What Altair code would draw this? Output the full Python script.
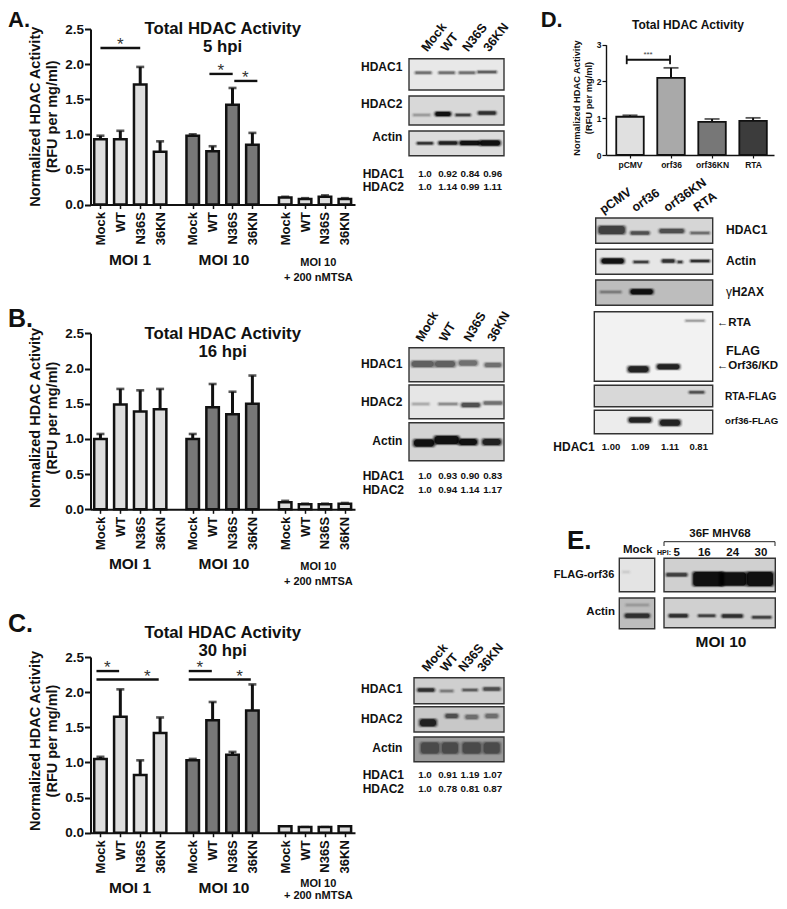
import altair as alt
import pandas as pd

# ---------- bar chart values ----------
CONDITIONS = ["Mock", "WT", "N36S", "36KN"]
A_MEANS = [0.93, 0.93, 1.71, 0.75, 0.98, 0.76, 1.42, 0.85, 0.10, 0.08, 0.11, 0.08]
A_TOPS = [0.98, 1.05, 1.96, 0.90, 1.00, 0.83, 1.66, 1.02, 0.11, 0.09, 0.13, 0.09]
B_MEANS = [1.00, 1.49, 1.39, 1.42, 1.00, 1.45, 1.35, 1.50, 0.10, 0.07, 0.07, 0.08]
B_TOPS = [1.07, 1.71, 1.69, 1.71, 1.07, 1.78, 1.67, 1.90, 0.12, 0.08, 0.08, 0.09]
C_MEANS = [1.05, 1.65, 0.82, 1.42, 1.03, 1.60, 1.11, 1.74, 0.09, 0.08, 0.08, 0.09]
C_TOPS = [1.08, 2.04, 1.03, 1.64, 1.05, 1.86, 1.15, 2.11, 0.09, 0.08, 0.08, 0.09]
D_LABELS = ["pCMV", "orf36", "orf36KN", "RTA"]
D_MEANS = [1.04, 2.10, 0.90, 0.93]
D_TOPS = [1.08, 2.37, 0.98, 1.01]

# significance bars: from, to, height; stars: position, height
A_SIG = [(0.0, 2.0, 2.23), (5.48, 6.65, 1.86), (6.73, 7.89, 1.76)]
A_STAR = [(1.0, 2.39), (6.05, 2.02), (7.29, 1.915)]
C_SIG = [(-0.2, 0.94, 2.30), (-0.2, 2.93, 2.18), (4.44, 5.6, 2.30), (4.44, 7.56, 2.18)]
C_STAR = [(0.35, 2.456), (2.36, 2.33), (5.0, 2.456), (7.0, 2.33)]

# ---------- layout ----------
W, H = 771, 893
GROUP_OFFSET = [0.0, 4.64, 9.29]
GROUP_FILL = ["#dedede", "#777777", "#dedede"]
D_FILL = ["#e0e0e0", "#a9a9a9", "#777777", "#3c3c3c"]
AXIS_COLOR = "#111111"
FONT = "Liberation Sans"


def main_chart(means, tops, y0, y25, sig=(), stars=()):
    rows = []
    for i, (m, t) in enumerate(zip(means, tops)):
        g, c = divmod(i, 4)
        rows.append({"pos": round(GROUP_OFFSET[g] + c, 2), "v": m, "top": t, "fill": GROUP_FILL[g],
                     "label": CONDITIONS[c]})
    df = pd.DataFrame(rows)
    xs = alt.Scale(domain=[-0.5, 12.8], range=[90.5 - 8, 355 - 8], nice=False, zero=False, padding=0)
    ys = alt.Scale(domain=[0, 2.5], range=[y0 - 8, y25 - 8], nice=False, zero=False)
    lookup = "{" + ",".join(f"'{r['pos']:g}':'{r['label']}'" for r in rows) + "}"
    xaxis = alt.Axis(orient="bottom", offset=-(H - (y0 - 8)), values=list(df["pos"]), title=None,
                     labelExpr=f"{lookup}[''+datum.value]", labelAngle=270, labelAlign="right",
                     labelBaseline="middle", labelFont=FONT, labelFontWeight="bold", labelFontSize=13,
                     labelPadding=3, labelColor="#111", tickSize=4, tickWidth=1.5, tickColor=AXIS_COLOR,
                     domainWidth=2, domainColor=AXIS_COLOR, grid=False, labelOverlap=False, labelFlush=False)
    yaxis = alt.Axis(orient="left", offset=-82.5, values=[0, 0.5, 1, 1.5, 2, 2.5], format=".1f", title=None,
                     labelFont=FONT, labelFontWeight="bold", labelFontSize=13.5, labelPadding=1, labelColor="#111",
                     tickSize=6, tickWidth=2, tickColor=AXIS_COLOR, domainWidth=2, domainColor=AXIS_COLOR,
                     grid=False, labelFlush=False, labelOverlap=False)
    X = alt.X("pos:Q", scale=xs, axis=xaxis)
    Y = alt.Y("v:Q", scale=ys, axis=yaxis, stack=None)
    err = alt.Chart(df).mark_rule(color="#111", strokeWidth=3).encode(x=X, y=Y, y2="top:Q")
    cap = alt.Chart(df).mark_tick(color="#111", thickness=2.6, size=8, orient="horizontal").encode(
        x=X, y=alt.Y("top:Q", scale=ys, axis=yaxis))
    bars = alt.Chart(df).mark_bar(orient="vertical", size=12.5, stroke="#111", strokeWidth=2.5).encode(
        x=X, y=Y, fill=alt.Fill("fill:N", scale=None))
    parts = [err, cap, bars]
    if sig:
        sd = pd.DataFrame(sig, columns=["a", "b", "y"])
        parts.append(alt.Chart(sd).mark_rule(color="#111", strokeWidth=2.4).encode(
            x=alt.X("a:Q", scale=xs, axis=xaxis), x2="b:Q", y=alt.Y("y:Q", scale=ys, axis=yaxis)))
        td = pd.DataFrame(stars, columns=["p", "y"]).assign(t="*")
        parts.append(alt.Chart(td).mark_text(font=FONT, fontSize=17, color="#333", baseline="top").encode(
            x=alt.X("p:Q", scale=xs, axis=xaxis), y=alt.Y("y:Q", scale=ys, axis=yaxis), text="t:N"))
    return alt.layer(*parts)


def d_chart():
    df = pd.DataFrame({"pos": range(4), "v": D_MEANS, "top": D_TOPS, "fill": D_FILL, "label": D_LABELS})
    xs = alt.Scale(domain=[-0.585, 3.51], range=[606 - 8, 774 - 8], nice=False, zero=False, padding=0)
    ys = alt.Scale(domain=[0, 3], range=[155 - 8, 44.7 - 8], nice=False, zero=False)
    lookup = "[" + ",".join(f"'{s}'" for s in D_LABELS) + "]"
    xaxis = alt.Axis(orient="bottom", offset=-(H - 147), values=[0, 1, 2, 3], title=None, labelAngle=0,
                     labelExpr=f"{lookup}[datum.value]", labelFont=FONT, labelFontWeight="bold", labelFontSize=8.5,
                     labelPadding=2, labelColor="#111", tickSize=3, tickWidth=1.2, tickColor=AXIS_COLOR,
                     domainWidth=1.4, domainColor=AXIS_COLOR, grid=False, labelOverlap=False, labelFlush=False)
    yaxis = alt.Axis(orient="left", offset=-(606 - 8), values=[0, 1, 2, 3], format="d", title=None,
                     labelFont=FONT, labelFontWeight="bold", labelFontSize=8.5, labelPadding=1, labelColor="#111",
                     tickSize=4, tickWidth=1.2, tickColor=AXIS_COLOR, domainWidth=1.4, domainColor=AXIS_COLOR,
                     grid=False, labelFlush=False, labelOverlap=False)
    X = alt.X("pos:Q", scale=xs, axis=xaxis)
    Y = alt.Y("v:Q", scale=ys, axis=yaxis, stack=None)
    err = alt.Chart(df).mark_rule(color="#111", strokeWidth=2).encode(x=X, y=Y, y2="top:Q")
    cap = alt.Chart(df).mark_tick(color="#111", thickness=1.8, size=15, orient="horizontal").encode(
        x=X, y=alt.Y("top:Q", scale=ys, axis=yaxis))
    bars = alt.Chart(df).mark_bar(orient="vertical", size=27.5, stroke="#111", strokeWidth=1.8).encode(
        x=X, y=Y, fill=alt.Fill("fill:N", scale=None))
    br = pd.DataFrame({"a": [-0.08], "b": [0.976], "y": [2.59]})
    h = alt.Chart(br).mark_rule(color="#111", strokeWidth=1.8).encode(
        x=alt.X("a:Q", scale=xs, axis=xaxis), x2="b:Q", y=alt.Y("y:Q", scale=ys, axis=yaxis))
    cp = pd.DataFrame({"p": [-0.08, 0.976], "lo": [2.47, 2.47], "hi": [2.71, 2.71]})
    c2 = alt.Chart(cp).mark_rule(color="#111", strokeWidth=1.8).encode(
        x=alt.X("p:Q", scale=xs, axis=xaxis), y=alt.Y("lo:Q", scale=ys, axis=yaxis), y2="hi:Q")
    st = pd.DataFrame({"p": [0.44], "y": [2.72], "t": ["***"]})
    s = alt.Chart(st).mark_text(font=FONT, fontSize=8, color="#444", baseline="middle").encode(
        x=alt.X("p:Q", scale=xs, axis=xaxis), y=alt.Y("y:Q", scale=ys, axis=yaxis), text="t:N")
    return alt.layer(err, cap, bars, h, c2, s)


# ---------- blots (page layout: left, right, top, bottom, background) ----------
PANELS = [
    (409, 504, 58.7, 90, "#e8e8e8"), (409, 504, 96, 125, "#d8d8d8"), (409, 504, 131, 155.7, "#dcdcdc"),
    (409, 504, 347.7, 381.7, "#dcdcdc"), (409, 504, 385, 418.7, "#e6e6e6"), (409, 504, 422.7, 460.7, "#d4d4d4"),
    (414, 504, 677.7, 703.7, "#cfcfcf"), (414, 504, 706.7, 732, "#c8c8c8"), (414, 504, 737, 761.7, "#9a9a9a"),
    (595.7, 712.7, 218, 243.3, "#d6d6d6"), (595.7, 712.7, 249.3, 274.3, "#e6e6e6"),
    (595.7, 712.7, 280, 305.3, "#bdbdbd"), (594.3, 712.7, 311.7, 381.3, "#f2f2f2"),
    (594.3, 712.7, 385.3, 406.7, "#d8d8d8"), (594.3, 712.7, 410.3, 433.7, "#ececec"),
    (619.3, 654.7, 558.3, 591.7, "#e4e4e4"), (619.3, 654.7, 598, 628.7, "#bdbdbd"),
    (664, 775.3, 558.3, 591.7, "#d0d0d0"), (664, 775.3, 598, 627.7, "#d0d0d0"),
]
# band: x centre, y centre, width, height, colour
BANDS = [
    (423.3, 72.7, 15, 2, "#666"), (446.7, 72.7, 15, 2, "#666"), (467, 72.7, 15, 2, "#666"), (487, 72, 18, 2, "#555"),
    (421.7, 115, 16, 2, "#999"), (443, 114, 15, 4, "#000"), (463, 115, 14, 2, "#333"), (487, 113, 17, 3, "#222"),
    (425, 143.3, 15, 2, "#222"), (448, 143, 18, 3, "#111"), (470, 143, 20, 4, "#000"), (490, 143, 20, 5, "#000"),
    (422.7, 364, 22, 6, "#555"), (445, 364, 20, 6, "#555"), (468, 363, 18, 5, "#666"), (493, 365, 16, 4, "#666"),
    (420.7, 404, 16, 2, "#aaa"), (448, 404, 18, 2, "#888"), (470.7, 405, 18, 4, "#444"), (493, 403, 18, 3, "#666"),
    (424, 443, 20, 7, "#000"), (446.7, 440, 24, 8, "#000"), (468, 442, 18, 6, "#000"), (491.7, 442, 18, 6, "#111"),
    (426, 690, 16, 3, "#222"), (446.7, 691, 12, 2, "#777"), (470, 690, 14, 2, "#555"), (491.7, 689, 16, 3, "#444"),
    (428, 722.7, 16, 7, "#111"), (451.7, 716, 12, 4, "#444"), (471.7, 717, 12, 4, "#666"), (491.7, 716, 12, 4, "#666"),
    (430, 748, 18, 11, "#444"), (450, 748, 16, 11, "#444"), (471.7, 748, 18, 11, "#444"), (491.7, 748, 16, 11, "#444"),
    (611.7, 230, 26, 8, "#333"), (640, 233, 18, 3, "#444"), (671.7, 231, 24, 4, "#444"), (700, 233, 18, 2, "#666"),
    (612.7, 261, 22, 5, "#000"), (641, 262, 14, 2, "#333"), (668.3, 261, 12, 3, "#222"), (680, 262, 4, 2, "#333"),
    (700, 261, 18, 2, "#222"),
    (610.7, 292, 20, 2, "#777"), (641.7, 291.7, 22, 5, "#000"),
    (695, 320.7, 18, 1.5, "#999"), (638.3, 369.3, 20, 6, "#111"), (668.3, 366.7, 22, 5, "#111"),
    (696.7, 392.3, 14, 2, "#444"),
    (640, 420, 22, 5, "#111"), (670, 422.7, 20, 6, "#111"),
    (626, 572, 6, 2, "#ccc"),
    (637.3, 605, 22, 2, "#999"), (637.3, 615.7, 24, 4, "#222"),
    (676.7, 574.7, 20, 3, "#333"), (708.3, 579, 30, 14, "#000"), (733.3, 579, 26, 13, "#000"), (760, 579, 26, 14, "#000"),
    (678.3, 615.7, 18, 3, "#222"), (706.7, 615.7, 16, 2, "#333"), (732.3, 616, 20, 3, "#222"), (761.7, 617.3, 18, 2, "#333"),
]
# nested soft edge: grow, opacity
SOFT = [(3.0, 0.08), (2.2, 0.14), (1.5, 0.22), (0.8, 0.35), (0.0, 0.8)]

# ---------- texts: text, x, y, size, angle ----------
BOLD_CENTER = []
BOLD_LEFT = []
REGULAR_LEFT = []
for t_y, hpi in [((29, 46.7), "5 hpi"), ((334, 351.7), "16 hpi"), ((633, 651), "30 hpi")]:
    BOLD_CENTER += [("Total HDAC Activity", 222.7, t_y[0], 16.8, 0), (hpi, 222.7, t_y[1], 16.8, 0)]
for y_c, y_moi, y_s1, y_s2 in [(116.7, 260, 263, 278), (418, 564, 567, 582), (741, 888, 884, 895.5)]:
    BOLD_CENTER += [("Normalized HDAC Activity", 35.7, y_c, 14.5, 270), ("(RFU per mg/ml)", 52.7, y_c, 14.5, 270),
                    ("MOI 1", 130, y_moi, 15.5, 0), ("MOI 10", 224, y_moi, 15.5, 0),
                    ("MOI 10", 318.3, y_s1, 11, 0), ("+ 200 nMTSA", 318.3, y_s2, 11, 0)]
for letter, x, y, s in [("A.", 8, 20, 22), ("B.", 8, 319, 25), ("C.", 8, 624, 25), ("D.", 540.7, 20, 22), ("E.", 567, 540.7, 26)]:
    BOLD_LEFT.append((letter, x, y, s, 0))
VALUE_X = [425, 447.7, 470, 492.7]
for h1, h2, vals1, vals2 in [(174, 187, ["1.0", "0.92", "0.84", "0.96"], ["1.0", "1.14", "0.99", "1.11"]),
                             (476, 490, ["1.0", "0.93", "0.90", "0.83"], ["1.0", "0.94", "1.14", "1.17"]),
                             (775, 789, ["1.0", "0.91", "1.19", "1.07"], ["1.0", "0.78", "0.81", "0.87"])]:
    BOLD_LEFT += [("HDAC1", 362.7, h1, 12, 0), ("HDAC2", 362.7, h2, 12, 0)]
    for x, a, b in zip(VALUE_X, vals1, vals2):
        BOLD_CENTER += [(a, x, h1, 9.8, 0), (b, x, h2, 9.8, 0)]
for y1, y2, y3 in [(67, 104, 136.7), (364, 402.3, 441), (689.3, 719, 748.3)]:
    BOLD_LEFT += [("HDAC1", 361, y1, 12, 0), ("HDAC2", 361, y2, 12, 0), ("Actin", 372.3, y3, 12, 0)]
for xs_, y_, ang in [([424, 443.5, 465, 486], 50, 308), ([419, 442.5, 467, 490.5], 340.5, 300),
                     ([424.5, 443, 461, 480], 670, 310)]:
    for n, x in zip(CONDITIONS, xs_):
        BOLD_LEFT.append((n, x, y_, 12.6, ang))
for n, x, y in [("pCMV", 601, 211), ("orf36", 633, 209), ("orf36KN", 665, 209), ("RTA", 695, 209)]:
    BOLD_LEFT.append((n, x, y, 12.5, 325))
BOLD_CENTER += [("Total HDAC Activity", 688, 25.3, 12, 0),
                ("Normalized HDAC Activity", 576.7, 98, 9.3, 270), ("(RFU per mg/ml)", 589.3, 98, 9.3, 270),
                ("HDAC1", 574, 446.7, 12, 0), ("1.00", 611, 446.7, 9.5, 0), ("1.09", 640.3, 446.7, 9.5, 0),
                ("1.11", 670, 446.7, 9.5, 0), ("0.81", 698.7, 446.7, 9.5, 0),
                ("Mock", 637.7, 550, 11.5, 0), ("36F MHV68", 720, 534, 11.5, 0), ("HPI:", 664, 553, 7, 0),
                ("5", 676.7, 553, 11.5, 0), ("16", 704.3, 553, 11.5, 0), ("24", 732.7, 553, 11.5, 0),
                ("30", 761, 553, 11.5, 0), ("FLAG-orf36", 584, 575, 11, 0), ("Actin", 600.7, 611.7, 11.5, 0),
                ("MOI 10", 721, 642, 15.5, 0)]
BOLD_LEFT += [("HDAC1", 726, 230, 12, 0), ("Actin", 726, 261, 12, 0), ("H2AX", 732, 292, 12, 0),
              ("\u2190RTA", 716.7, 323.3, 11.5, 0), ("FLAG", 726, 350.7, 12.5, 0), ("\u2190Orf36/KD", 716.7, 365.7, 11.5, 0),
              ("RTA-FLAG", 725, 397.3, 10.2, 0), ("orf36-FLAG", 725, 421, 9.7, 0)]
REGULAR_LEFT += [("\u03b3", 726, 292, 12, 0)]

# ---------- canvas layer ----------
cx = alt.Scale(domain=[8, 8 + W], range=[0, W], nice=False, zero=False)
cy = alt.Scale(domain=[8, 8 + H], range=[0, H], nice=False, zero=False)
panel_df = pd.DataFrame(PANELS, columns=["l", "r", "t", "b", "bg"])
panels = alt.Chart(panel_df).mark_rect(stroke="#333", strokeWidth=1.4).encode(
    x=alt.X("l:Q", scale=cx, axis=None), x2="r:Q", y=alt.Y("t:Q", scale=cy, axis=None), y2="b:Q",
    fill=alt.Fill("bg:N", scale=None))
band_rows = []
for x, y, w, h, c in BANDS:
    for grow, op in SOFT:
        band_rows.append({"l": x - w / 2 - grow, "r": x + w / 2 + grow, "t": y - h / 2 - grow * 0.6,
                          "b": y + h / 2 + grow * 0.6, "c": c, "o": op})
bands = alt.Chart(pd.DataFrame(band_rows)).mark_rect(cornerRadius=3).encode(
    x=alt.X("l:Q", scale=cx, axis=None), x2="r:Q", y=alt.Y("t:Q", scale=cy, axis=None), y2="b:Q",
    fill=alt.Fill("c:N", scale=None), opacity=alt.Opacity("o:Q", scale=None))
# bracket above the 36F MHV68 lanes
brk = pd.DataFrame({"l": [664], "r": [775], "y": [541.7]})
brk_h = alt.Chart(brk).mark_rule(color="#222", strokeWidth=1).encode(
    x=alt.X("l:Q", scale=cx, axis=None), x2="r:Q", y=alt.Y("y:Q", scale=cy, axis=None))
brk_v_df = pd.DataFrame({"x": [664, 775], "a": [541.7, 541.7], "b": [546, 546]})
brk_v = alt.Chart(brk_v_df).mark_rule(color="#222", strokeWidth=1).encode(
    x=alt.X("x:Q", scale=cx, axis=None), y=alt.Y("a:Q", scale=cy, axis=None), y2="b:Q")


def text_layer(rows, align, weight):
    df = pd.DataFrame(rows, columns=["t", "x", "y", "s", "a"])
    return alt.Chart(df).mark_text(font=FONT, fontWeight=weight, align=align, baseline="middle", color="#111").encode(
        x=alt.X("x:Q", scale=cx, axis=None), y=alt.Y("y:Q", scale=cy, axis=None), text="t:N",
        size=alt.Size("s:Q", scale=None), angle=alt.Angle("a:Q", scale=None))


canvas = alt.layer(panels, bands, brk_h, brk_v,
                   text_layer(BOLD_CENTER, "center", "bold"),
                   text_layer(BOLD_LEFT, "left", "bold"),
                   text_layer(REGULAR_LEFT, "left", "normal"))

chart = alt.layer(
    canvas,
    main_chart(A_MEANS, A_TOPS, 204.5, 29, A_SIG, A_STAR),
    main_chart(B_MEANS, B_TOPS, 509.3, 333.3),
    main_chart(C_MEANS, C_TOPS, 832.7, 657, C_SIG, C_STAR),
    d_chart(),
).resolve_scale(x="independent", y="independent").properties(
    width=W, height=H, padding=0, background="white",
    autosize=alt.AutoSizeParams(type="none")
).configure_view(stroke=None)

chart.save("out.html", embed_options={"renderer": "svg", "actions": False})
